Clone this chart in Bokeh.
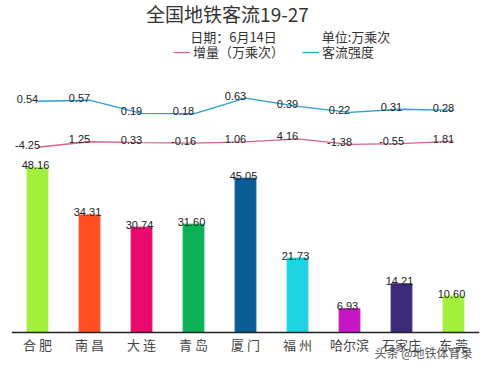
from bokeh.plotting import figure
from bokeh.models import Range1d, FactorRange, Label, Legend, LegendItem, ColumnDataSource, Span
from bokeh.core.properties import value
from bokeh.embed import file_html
from bokeh.resources import INLINE

cities = ["合 肥", "南 昌", "大 连", "青 岛", "厦 门", "福 州", "哈尔滨", "石家庄", "东 莞"]
flow = [48.16, 34.31, 30.74, 31.60, 45.05, 21.73, 6.93, 14.21, 10.60]
increase = [-4.25, 1.25, 0.33, -0.16, 1.06, 4.16, -1.38, -0.55, 1.81]
intensity = [0.54, 0.57, 0.19, 0.18, 0.63, 0.39, 0.22, 0.31, 0.28]
bar_colors = ["#A3F03A", "#FF5024", "#EA0A6E", "#0CB155", "#0A5C96",
              "#20D3E3", "#C716C6", "#3D2A7A", "#A3F03A"]

title = "全国地铁客流19-27"
date_text = "日期：6月14日"
unit_text = "单位:万乘次"
legend_inc = "增量（万乘次）"
legend_int = "客流强度"
watermark = "头条 @地铁体育录"

CJK = "Noto Sans CJK SC"
NUM = "Liberation Sans"

# frame spans page y 0..370; baseline (value 0) at page y 332
p = figure(width=482, height=370, x_range=FactorRange(factors=cities),
           y_range=Range1d(-11.09, 96.9), output_backend="svg", toolbar_location=None,
           min_border_left=11, min_border_right=3, min_border_top=0, min_border_bottom=0,
           x_axis_location=None, y_axis_location=None)
p.outline_line_color = None
p.xgrid.visible = False
p.ygrid.visible = False

p.extra_y_ranges = {"inc": Range1d(-227.5, 142.5), "int": Range1d(-7.219, 3.444)}

src = ColumnDataSource(dict(city=cities, flow=flow, inc=increase, ints=intensity, col=bar_colors,
                            zero=[0] * len(cities),
                            flow_t=["%.2f" % v for v in flow],
                            inc_t=["%.2f" % v for v in increase],
                            int_t=["%.2f" % v for v in intensity]))

p.vbar(x="city", top="flow", bottom=0, width=0.4, color="col", source=src)
p.text(x="city", y="flow", text="flow_t", source=src, text_align="center",
       text_baseline="alphabetic", y_offset=-2.5, x_offset=-2,
       text_font=value(NUM), text_font_size="11px", text_color="#222")

r_inc = p.line(x="city", y="inc", source=src, y_range_name="inc", line_color="#D4648C", line_width=1.3)
r_int = p.line(x="city", y="ints", source=src, y_range_name="int", line_color="#2A9FD0", line_width=1.3)
p.text(x="city", y="inc", text="inc_t", source=src, y_range_name="inc", text_align="center",
       text_baseline="alphabetic", y_offset=-2.5, x_offset=-10,
       text_font=value(NUM), text_font_size="11px", text_color="#222")
p.text(x="city", y="ints", text="int_t", source=src, y_range_name="int", text_align="center",
       text_baseline="alphabetic", y_offset=-2.5, x_offset=-10,
       text_font=value(NUM), text_font_size="11px", text_color="#222")

# category axis: baseline line and city labels
p.add_layout(Span(location=0, dimension="width", line_color="#222222", line_width=1.5))
p.text(x="city", y="zero", text="city", source=src, text_align="center",
       text_baseline="middle", y_offset=12,
       text_font=value(CJK), text_font_size="13px", text_color="#444444")

# frame: left at page x=11, bottom at page y=370
def lab(text, fx, fy, size, align="center", font=CJK, color="#333333"):
    p.add_layout(Label(x=fx - 11, y=370 - fy, x_units="screen", y_units="screen", text=text,
                       text_align=align, text_baseline="middle", text_font=font,
                       text_font_size=size, text_color=color))

lab(title, 227, 12.5, "19px")
lab(date_text, 233, 36, "13px")
lab(unit_text, 355.5, 36, "13px")
lab(watermark, 472, 352, "12px", align="right", color="#555555")

legend = Legend(items=[LegendItem(label=legend_inc, renderers=[r_inc]),
                       LegendItem(label=legend_int, renderers=[r_int])],
                location=(162, 370 - 61), orientation="horizontal",
                border_line_color=None, background_fill_alpha=0, padding=0, margin=0,
                glyph_width=17, glyph_height=18, label_standoff=3, spacing=18,
                label_text_font=CJK, label_text_font_size="13px", label_text_color="#333333")
p.add_layout(legend)

open("out.html", "w").write(file_html(p, INLINE))
